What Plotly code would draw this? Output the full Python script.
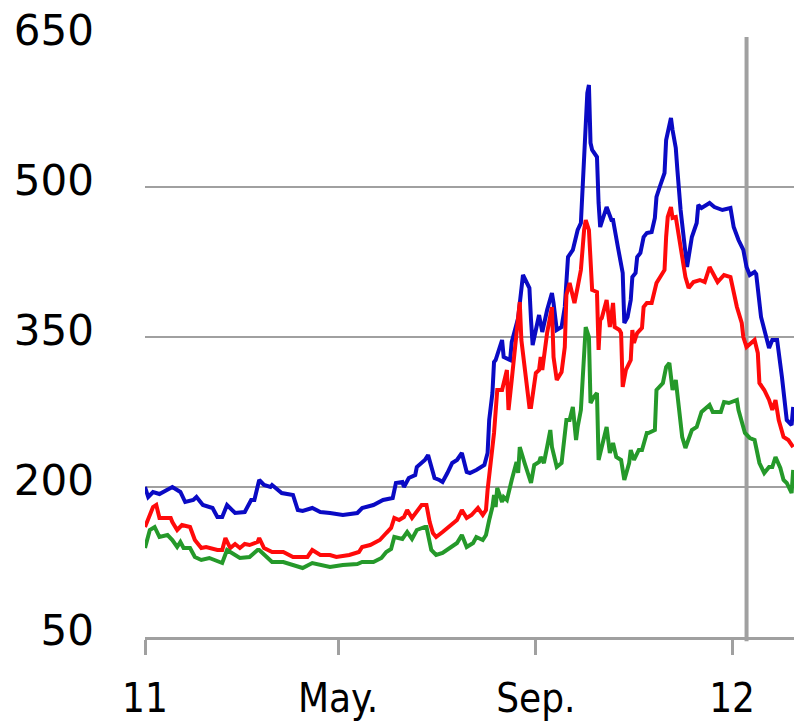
import pandas as pd
import plotly.graph_objects as go

start_date = "2011-01-01"
marker_date = "2012-01-10"
x_end_day = 403.5

tick_dates = ["2011-01-01", "2011-05-01", "2011-09-01", "2012-01-01"]
tick_labels = ["11", "May.", "Sep.", "12"]
y_ticks = [50, 200, 350, 500, 650]

blue_days = [0, 2, 5, 9, 17, 22, 25, 30, 32, 36, 42, 45, 48, 51, 56, 62, 66, 68, 71, 74, 78, 79, 85, 92, 95, 98,
             104, 109, 115, 123, 132, 135, 142, 148, 154, 156, 160, 161, 164, 168, 169, 174, 176, 178, 180, 183,
             185, 188, 191, 194, 197, 200, 202, 206, 209, 211, 213, 214, 216, 217, 218, 222, 223, 227, 228, 232,
             235, 239, 240, 241, 243, 245, 247, 250, 253, 254, 256, 259, 261, 262, 263, 266, 267, 269, 271, 272,
             274, 275, 276, 277, 278, 281, 282, 283, 285, 287, 290, 291, 294, 296, 297, 298, 300, 302, 303, 305,
             306, 308, 310, 312, 315, 317, 318, 320, 323, 324, 326, 327, 328, 330, 331, 333, 337, 340, 343, 344,
             346, 351, 354, 359, 364, 366, 369, 372, 374, 376, 379, 380, 383, 385, 387, 388, 390, 393, 396, 399,
             402, 403]
blue_vals = [200, 190, 195, 193, 200, 195, 185, 187, 190, 182, 179, 170, 170, 182, 174, 175, 187, 187, 207, 202,
             200, 202, 194, 192, 177, 176, 179, 175, 174, 172, 174, 179, 182, 187, 189, 204, 205, 200, 209, 212,
             220, 227, 232, 220, 209, 207, 205, 214, 224, 227, 234, 215, 214, 217, 220, 222, 234, 267, 294, 325,
             327, 347, 330, 327, 345, 369, 412, 399, 367, 342, 357, 372, 355, 377, 394, 384, 357, 360, 380, 404,
             430, 437, 444, 457, 464, 494, 550, 594, 602, 544, 537, 530, 484, 460, 470, 480, 467, 467, 440, 420,
             414, 364, 370, 387, 410, 414, 430, 434, 450, 454, 455, 469, 490, 500, 514, 547, 560, 569, 557, 539,
             517, 477, 420, 450, 464, 482, 479, 484, 480, 477, 479, 460, 447, 437, 420, 412, 415, 413, 370, 357,
             347, 339, 347, 347, 310, 267, 262, 280]

red_days = [0, 5, 7, 9, 16, 17, 20, 23, 28, 31, 35, 38, 45, 48, 50, 53, 56, 59, 62, 65, 70, 71, 74, 79, 86, 92,
            101, 104, 109, 115, 119, 127, 133, 135, 140, 146, 150, 153, 155, 158, 161, 163, 166, 169, 172, 175,
            177, 179, 181, 185, 189, 194, 197, 200, 203, 207, 210, 212, 213, 217, 219, 222, 225, 226, 228, 230,
            233, 234, 236, 239, 240, 243, 245, 246, 247, 250, 253, 254, 256, 259, 261, 262, 264, 265, 267, 269,
            271, 273, 274, 276, 277, 278, 281, 282, 283, 284, 287, 289, 291, 292, 295, 296, 297, 299, 302, 303,
            304, 306, 309, 310, 312, 315, 318, 323, 324, 325, 327, 328, 330, 331, 336, 338, 341, 345, 348, 351,
            354, 356, 360, 364, 368, 371, 372, 374, 379, 381, 382, 385, 388, 390, 392, 394, 397, 400, 403]
red_vals = [160, 180, 182, 169, 169, 165, 157, 162, 160, 147, 139, 140, 137, 137, 149, 139, 143, 139, 143, 142,
            145, 149, 139, 135, 135, 130, 130, 137, 132, 132, 130, 132, 135, 140, 142, 147, 154, 159, 169, 167,
            170, 177, 169, 175, 182, 182, 165, 154, 150, 155, 160, 167, 177, 169, 172, 179, 172, 177, 197, 254,
            297, 297, 317, 277, 307, 340, 385, 347, 320, 280, 280, 314, 317, 330, 317, 354, 380, 330, 307, 315,
            340, 392, 404, 397, 384, 400, 417, 457, 467, 457, 417, 397, 395, 337, 367, 369, 387, 360, 384, 360,
            357, 354, 300, 317, 327, 357, 344, 354, 359, 380, 384, 384, 404, 417, 450, 470, 480, 469, 470, 460,
            410, 399, 405, 407, 405, 420, 410, 405, 412, 410, 380, 364, 350, 340, 347, 334, 304, 297, 287, 277,
            287, 267, 250, 247, 240]

green_days = [0, 3, 6, 9, 14, 17, 20, 22, 24, 28, 31, 35, 40, 47, 48, 51, 55, 59, 65, 70, 71, 76, 79, 86, 92, 98,
              104, 109, 115, 123, 132, 135, 142, 147, 150, 153, 155, 160, 163, 166, 169, 174, 175, 178, 181, 185,
              189, 194, 197, 200, 204, 206, 210, 212, 214, 216, 217, 218, 219, 222, 223, 225, 228, 231, 232, 233,
              236, 240, 242, 245, 246, 248, 250, 252, 253, 256, 259, 262, 264, 266, 268, 269, 271, 273, 274, 276,
              277, 279, 281, 282, 284, 287, 289, 291, 293, 296, 298, 301, 302, 304, 307, 309, 312, 313, 317, 318,
              322, 324, 326, 328, 330, 332, 334, 336, 340, 343, 345, 346, 351, 353, 358, 360, 363, 368, 369, 371,
              373, 376, 379, 382, 385, 388, 390, 392, 395, 397, 399, 402, 403]
green_vals = [139, 157, 160, 150, 152, 147, 140, 145, 139, 139, 130, 127, 129, 124, 124, 137, 133, 129, 130, 137,
              137, 130, 125, 125, 122, 119, 124, 122, 120, 122, 123, 125, 125, 129, 135, 138, 150, 148, 155, 148,
              157, 160, 160, 137, 132, 134, 138, 144, 152, 140, 144, 150, 147, 152, 167, 180, 192, 180, 199, 185,
              190, 187, 207, 225, 214, 240, 224, 204, 222, 225, 230, 224, 240, 257, 240, 220, 224, 267, 267, 280,
              247, 260, 277, 327, 360, 350, 284, 290, 294, 227, 240, 260, 234, 244, 230, 227, 207, 224, 237, 227,
              237, 237, 254, 254, 257, 297, 304, 320, 324, 297, 307, 280, 250, 239, 257, 260, 272, 275, 282, 275,
              275, 285, 284, 287, 277, 267, 254, 249, 247, 224, 214, 220, 220, 230, 219, 207, 204, 194, 217]

base = pd.Timestamp(start_date)


def to_dates(days):
    return [base + pd.Timedelta(days=d) for d in days]


series = [
    ("blue", blue_days, blue_vals, "#0a0ac4"),
    ("red", red_days, red_vals, "#ff0a0a"),
    ("green", green_days, green_vals, "#25992a"),
]

fig = go.Figure()
for name, days, vals, color in series:
    fig.add_trace(go.Scatter(x=to_dates(days), y=vals, mode="lines", name=name,
                             line=dict(color=color, width=4), showlegend=False))

fig.add_shape(type="line", xref="x", yref="paper",
              x0=pd.Timestamp(marker_date), x1=pd.Timestamp(marker_date), y0=-0.007, y1=1,
              line=dict(color="#a0a0a0", width=4), layer="below")

fig.update_layout(
    width=794, height=721,
    margin=dict(l=145, r=0, t=37, b=84, autoexpand=False),
    paper_bgcolor="white", plot_bgcolor="white",
    xaxis=dict(
        type="date", automargin=False,
        range=[base, base + pd.Timedelta(days=x_end_day)],
        tickvals=[pd.Timestamp(d) for d in tick_dates], ticktext=tick_labels,
        showgrid=False, zeroline=False,
        showline=True, linecolor="#a0a0a0", linewidth=3,
        ticks="outside", ticklen=15, tickwidth=3, tickcolor="#a0a0a0",
        tickfont=dict(family="DejaVu Sans Condensed, Liberation Sans Narrow, sans-serif", size=40, color="black"),
        ticklabelstandoff=9,
    ),
    yaxis=dict(
        automargin=False,
        range=[50, 650], tickvals=y_ticks, ticktext=[str(v) for v in y_ticks],
        showgrid=True, gridcolor="#a0a0a0", gridwidth=2,
        zeroline=False, showline=False, ticks="",
        tickfont=dict(family="DejaVu Sans, sans-serif", size=42, color="black"),
        ticklabelstandoff=50, ticklabelshift=-7,
    ),
)

fig.write_html("out.html", config={"displayModeBar": False},
               post_script="document.body.style.margin='0';document.body.style.padding='0';")
